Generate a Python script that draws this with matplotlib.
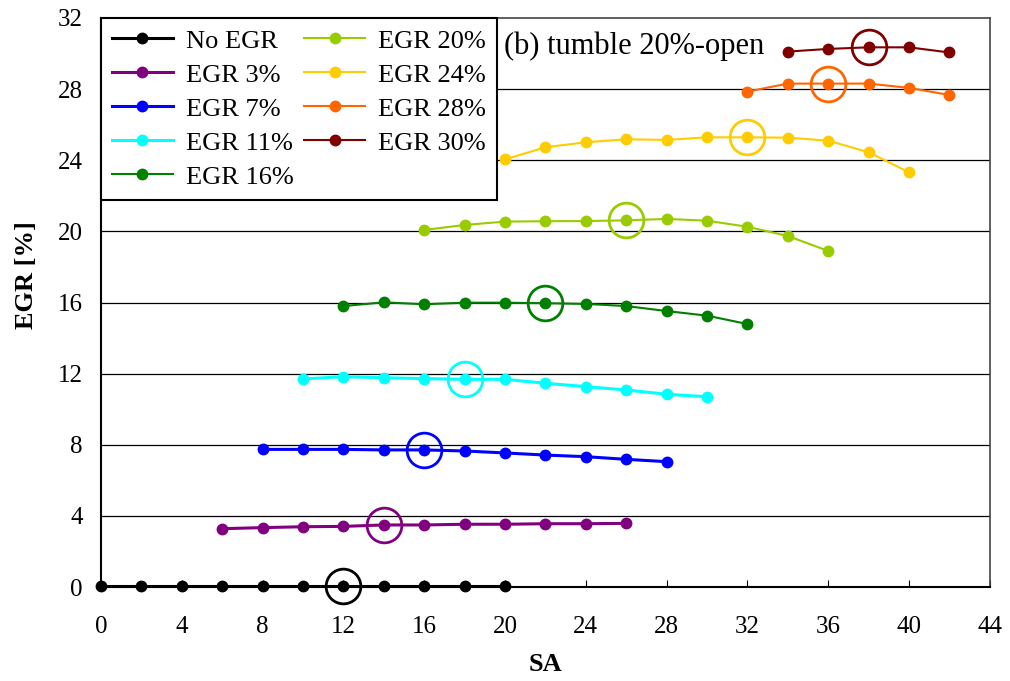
import numpy as np
from matplotlib import pyplot as plt

plt.rcParams['font.family'] = ['Liberation Serif', 'DejaVu Serif']
plt.rcParams['font.size'] = 18

# SA values and EGR [%] per series
sa_no = [0, 2, 4, 6, 8, 10, 12, 14, 16, 18, 20]
egr_no = [0.05, 0.05, 0.05, 0.05, 0.05, 0.05, 0.05, 0.05, 0.05, 0.05, 0.05]

sa_3 = [6, 8, 10, 12, 14, 16, 18, 20, 22, 24, 26]
egr_3 = [3.28, 3.34, 3.39, 3.41, 3.49, 3.49, 3.53, 3.53, 3.56, 3.56, 3.58]

sa_7 = [8, 10, 12, 14, 16, 18, 20, 22, 24, 26, 28]
egr_7 = [7.74, 7.74, 7.74, 7.71, 7.71, 7.65, 7.54, 7.42, 7.33, 7.18, 7.05]

sa_11 = [10, 12, 14, 16, 18, 20, 22, 24, 26, 28, 30]
egr_11 = [11.70, 11.83, 11.77, 11.72, 11.68, 11.68, 11.46, 11.27, 11.08, 10.84, 10.70]

sa_16 = [12, 14, 16, 18, 20, 22, 24, 26, 28, 30, 32]
egr_16 = [15.80, 16.01, 15.90, 15.99, 15.99, 15.96, 15.92, 15.80, 15.52, 15.26, 14.79]

sa_20 = [16, 18, 20, 22, 24, 26, 28, 30, 32, 34, 36]
egr_20 = [20.08, 20.36, 20.55, 20.57, 20.58, 20.62, 20.70, 20.60, 20.26, 19.74, 18.90]

sa_24 = [20, 22, 24, 26, 28, 30, 32, 34, 36, 38, 40]
egr_24 = [24.05, 24.73, 25.01, 25.18, 25.14, 25.29, 25.29, 25.27, 25.10, 24.45, 23.32]

sa_28 = [32, 34, 36, 38, 40, 42]
egr_28 = [27.86, 28.31, 28.31, 28.31, 28.07, 27.67]

sa_30 = [34, 36, 38, 40, 42]
egr_30 = [30.11, 30.26, 30.35, 30.35, 30.06]

labels = ['No EGR', 'EGR 3%', 'EGR 7%', 'EGR 11%', 'EGR 16%',
          'EGR 20%', 'EGR 24%', 'EGR 28%', 'EGR 30%']
colors = ['#000000', '#800080', '#0000ff', '#00ffff', '#008000',
          '#99cc00', '#ffcc00', '#ff6600', '#800000']
widths = [2.2, 2.2, 2.2, 2.2, 1.5, 1.5, 1.5, 1.5, 1.5]
# SA of the circled (best) point of each series
best_sa = [12, 14, 16, 18, 22, 26, 32, 36, 38]

sa_all = [sa_no, sa_3, sa_7, sa_11, sa_16, sa_20, sa_24, sa_28, sa_30]
egr_all = [egr_no, egr_3, egr_7, egr_11, egr_16, egr_20, egr_24, egr_28, egr_30]

fig = plt.figure(figsize=(10.1, 6.81), dpi=100)
ax = fig.add_axes([0.1, 0.138, 0.880, 0.8356])

for y in range(4, 32, 4):
    ax.axhline(y, color='black', lw=0.9, zorder=0)

for i in range(len(labels)):
    ax.plot(sa_all[i], egr_all[i], '-o', color=colors[i], lw=widths[i],
            ms=7.5, label=labels[i], zorder=3, clip_on=False)
    j = sa_all[i].index(best_sa[i])
    ax.plot(sa_all[i][j], egr_all[i][j], 'o', mfc='none', mec=colors[i],
            mew=2, ms=25, zorder=4, clip_on=False)

ax.set_xlim(0, 44)
ax.set_ylim(0, 32)
ax.set_xticks(np.arange(0, 45, 4))
ax.set_yticks(np.arange(0, 33, 4))
ax.tick_params(axis='x', direction='in', length=5, pad=21, labelsize=18)
ax.tick_params(axis='y', length=0, pad=13, labelsize=18)
ax.set_xlabel('SA', fontsize=19, fontweight='bold', labelpad=11)
ax.set_ylabel('EGR [%]', fontsize=19, fontweight='bold')
ax.yaxis.set_label_coords(-0.071, 0.548)

for s in ['left', 'bottom']:
    ax.spines[s].set_color('black')
    ax.spines[s].set_linewidth(1.5)
for s in ['top', 'right']:
    ax.spines[s].set_color('#444444')
    ax.spines[s].set_linewidth(1.2)

ax.text(0.453, 0.977, '(b) tumble 20%-open', transform=ax.transAxes,
        ha='left', va='top', fontsize=22)

leg = ax.legend(loc='upper left', ncol=2, fontsize=19, frameon=True,
                fancybox=False, borderaxespad=0, handlelength=2.3,
                columnspacing=0.4, labelspacing=0.4, borderpad=0.42,
                handletextpad=0.5)
leg.get_frame().set_edgecolor('black')
leg.get_frame().set_linewidth(1.5)
leg.get_frame().set_alpha(1)
leg.set_zorder(10)

fig.savefig('out.png', dpi=100)
